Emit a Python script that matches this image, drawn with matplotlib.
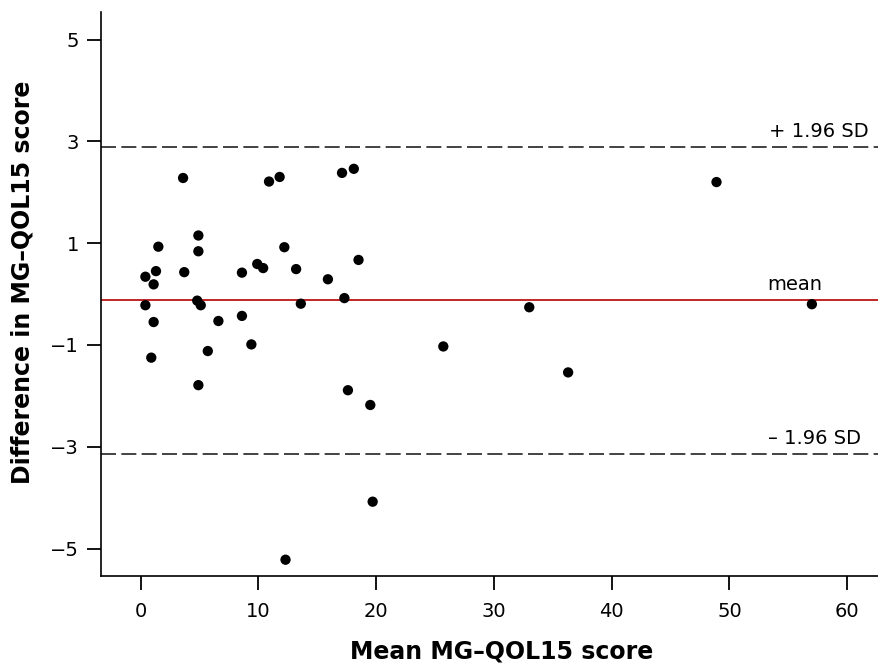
import numpy as np
import matplotlib
matplotlib.use("Agg")
import matplotlib.pyplot as plt

plt.rcParams['font.family'] = ['DejaVu Sans']

# mean of the two MG-QOL15 scores and their difference, one pair per patient
mean_score = [3.6, 10.9, 11.8, 17.1, 18.1, 48.9,
              1.5, 4.9, 4.9, 0.4, 1.3, 1.1, 3.7, 8.6, 9.9, 10.4, 12.2, 13.2, 15.9, 18.5,
              0.4, 1.1, 4.8, 5.1, 6.6, 8.6, 13.6, 17.3, 33.0, 57.0,
              0.9, 5.7, 9.4, 4.9, 17.6, 25.7, 36.3, 19.5, 19.7, 12.3]
diff_score = [2.28, 2.21, 2.30, 2.38, 2.46, 2.20,
              0.93, 1.15, 0.84, 0.34, 0.45, 0.19, 0.43, 0.42, 0.59, 0.51, 0.92, 0.49, 0.29, 0.67,
              -0.22, -0.55, -0.13, -0.22, -0.53, -0.43, -0.19, -0.08, -0.26, -0.20,
              -1.25, -1.12, -0.99, -1.79, -1.89, -1.03, -1.54, -2.18, -4.08, -5.22]

bias = -0.127
loa_upper = 2.89
loa_lower = -3.145

xticks = [0, 10, 20, 30, 40, 50, 60]
yticks = [-5, -3, -1, 1, 3, 5]

fig = plt.figure(figsize=(8.79, 6.70), dpi=100)
ax = fig.add_axes([0.1149, 0.1403, 0.8851, 0.8417])

ax.axhline(loa_upper, color='#222222', lw=1.2, dashes=(9, 3.2), zorder=1)
ax.axhline(loa_lower, color='#222222', lw=1.2, dashes=(9, 3.2), zorder=1)
ax.axhline(bias, color='#b80000', lw=1.2, zorder=1)

ax.scatter(mean_score, diff_score, s=55, color='black', edgecolors='none', zorder=3)

ax.text(61.8, loa_upper + 0.12, '+ 1.96 SD', ha='right', va='bottom', fontsize=14)
ax.text(57.9, bias + 0.12, 'mean', ha='right', va='bottom', fontsize=14)
ax.text(61.2, loa_lower + 0.12, '– 1.96 SD', ha='right', va='bottom', fontsize=14)

ax.set_xlim(-3.37, 62.7)
ax.set_ylim(-5.54, 5.54)
ax.set_xticks(xticks)
ax.set_yticks(yticks)
ax.set_yticklabels(['−5', '−3', '−1', '1', '3', '5'])

for side in ['top', 'right']:
    ax.spines[side].set_visible(False)
for side in ['left', 'bottom']:
    ax.spines[side].set_linewidth(1.2)

ax.tick_params(axis='both', direction='out', length=10, width=1.3, labelsize=14, color='black')
ax.tick_params(axis='x', pad=9)
ax.tick_params(axis='y', pad=6)

ax.set_xlabel('Mean MG–QOL15 score', fontsize=17, fontweight='bold')
ax.set_ylabel('Difference in MG–QOL15 score', fontsize=17, fontweight='bold')
ax.xaxis.set_label_coords(0.515, -0.112)
ax.yaxis.set_label_coords(-0.086, 0.521)

fig.savefig('out.png', dpi=100)
